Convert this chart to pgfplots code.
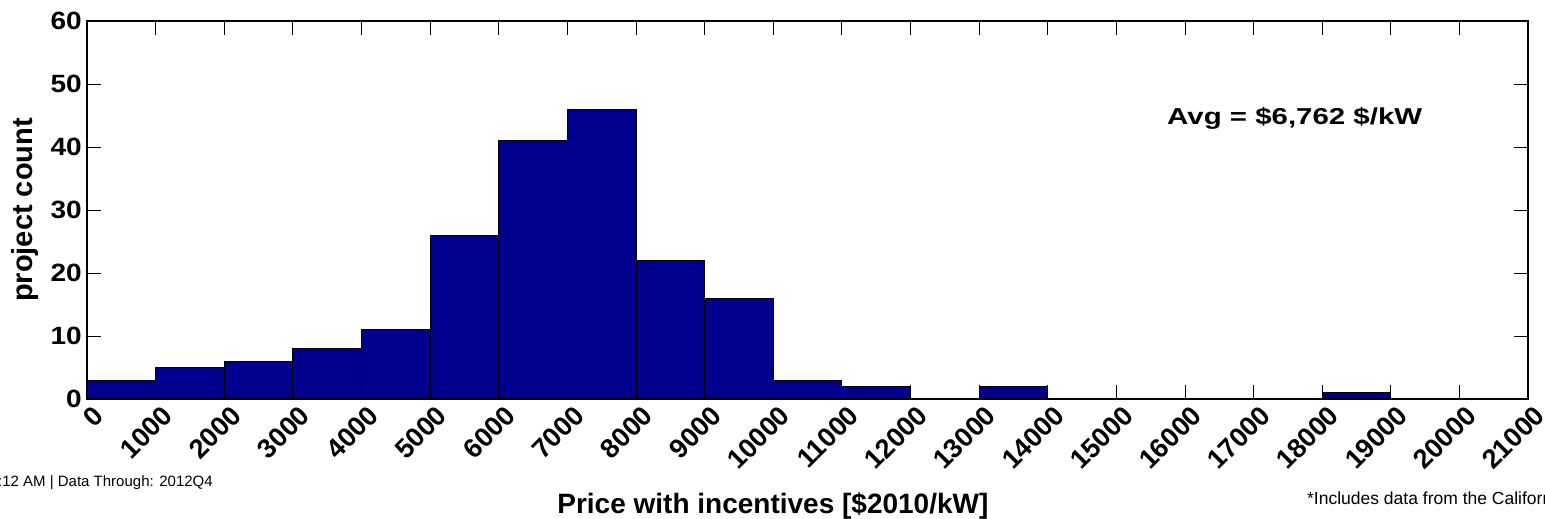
\documentclass[border=0pt]{standalone}
\usepackage{fontspec}
\setmainfont{Liberation Sans}
\newfontfamily\avgfont{Liberation Sans}[FakeStretch=1.28]
\newfontfamily\ytickfont{Liberation Sans}[FakeStretch=1.12]
\usepackage{pgfplots}
\pgfplotsset{compat=1.18}
\definecolor{barblue}{RGB}{0,0,143}
\begin{document}
\begin{tikzpicture}
\useasboundingbox (-87pt,-120pt) rectangle (1458pt,399pt);
\clip (-87pt,-120pt) rectangle (1458pt,399pt);
\begin{axis}[
  at={(0pt,0pt)}, anchor=south west,
  scale only axis, width=1441pt, height=378pt,
  xmin=0, xmax=21000, ymin=0, ymax=60,
  xtick={0,1000,...,21000}, ytick={0,10,...,60},
  scaled x ticks=false, scaled y ticks=false,
  clip=false, axis on top,
  axis line style={line width=1.4pt, black},
  major tick length=14pt,
  tick style={line width=0.8pt, black},
  /pgf/number format/assume math mode=true,
  /pgf/number format/set thousands separator={},
  yticklabel style={font=\ytickfont\bfseries\fontsize{25}{29}\selectfont, inner sep=0pt, xshift=-5pt},
  xticklabel style={font=\bfseries\fontsize{27}{31}\selectfont, inner sep=0pt, xshift=12pt, yshift=-12pt, rotate=45, anchor=east},
  xlabel={Price with incentives [\$2010/kW]},
  ylabel={project count},
  xlabel style={at={(axis description cs:0.476,-0.3016)}, anchor=base, font=\bfseries\fontsize{28}{32}\selectfont},
  ylabel style={at={(axis description cs:-0.043,0.5)}, anchor=center, font=\bfseries\fontsize{29}{33}\selectfont},
]
\addplot[ybar interval, fill=barblue, draw=black, line width=0.8pt] coordinates {
(0,3) (1000,5) (2000,6) (3000,8) (4000,11) (5000,26) (6000,41) (7000,46)
(8000,22) (9000,16) (10000,3) (11000,2) (12000,0) (13000,2) (14000,0)
(15000,0) (16000,0) (17000,0) (18000,1) (19000,0) (20000,0) (21000,0)
};
\node[anchor=base west, inner sep=0pt, font=\avgfont\bfseries\fontsize{23}{27}\selectfont] at (axis description cs:0.7495,0.7267) {Avg = \$6,762 \$/kW};
\node[anchor=base west, inner sep=0pt, font=\fontsize{15}{18}\selectfont] at (axis description cs:-0.0618,-0.2302) {:12 AM | Data Through: 2012Q4};
\node[anchor=base west, inner sep=0pt, font=\fontsize{17.5}{20}\selectfont] at (axis description cs:0.8466,-0.2778) {*Includes data from the California Solar Initiative};
\end{axis}
\end{tikzpicture}
\end{document}
